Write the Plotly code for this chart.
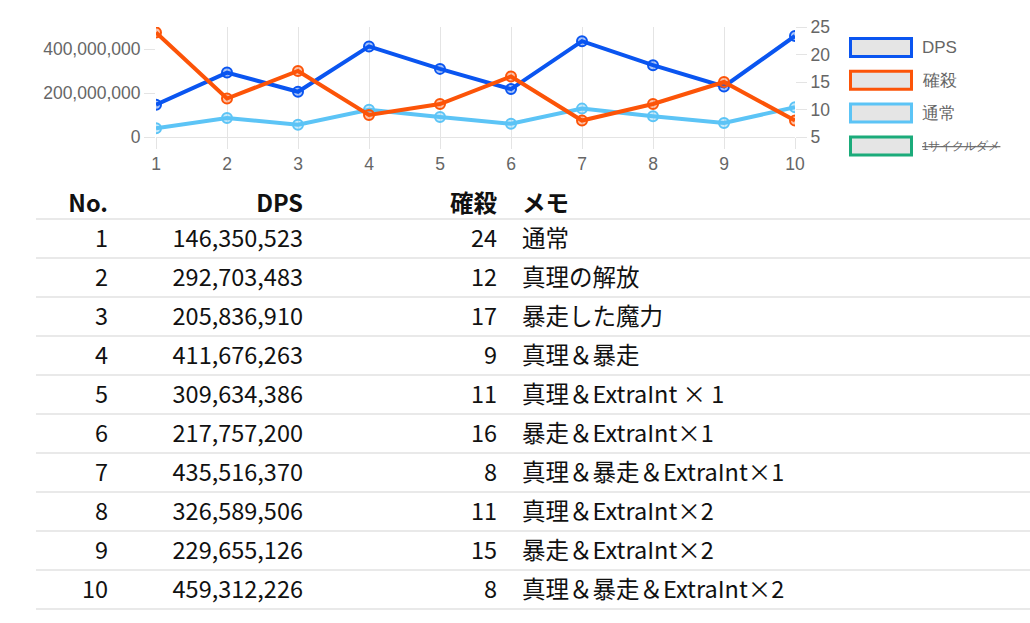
import plotly.graph_objects as go

W, H = 1030, 623

# ---------------- data ----------------
nos = [1, 2, 3, 4, 5, 6, 7, 8, 9, 10]
dps = [146350523, 292703483, 205836910, 411676263, 309634386,
       217757200, 435516370, 326589506, 229655126, 459312226]
kakusatsu = [24, 12, 17, 9, 11, 16, 8, 11, 15, 8]
tsujo = [40e6, 86e6, 56e6, 124e6, 91e6, 60e6, 129e6, 94e6, 64e6, 135e6]
memo = ["通常", "真理の解放", "暴走した魔力", "真理＆暴走",
        "真理＆ExtraInt × 1", "暴走＆ExtraInt×1", "真理＆暴走＆ExtraInt×1",
        "真理＆ExtraInt×2", "暴走＆ExtraInt×2", "真理＆暴走＆ExtraInt×2"]
headers = ["No.", "DPS", "確殺", "メモ"]
legend_names = ["DPS", "確殺", "通常", "1サイクルダメ"]
legend_hidden = [False, False, False, True]
left_ticks = [0, 200000000, 400000000]
right_ticks = [5, 10, 15, 20, 25]

# ---------------- styles ----------------
C_DPS = "#0a55f0"
C_KAKU = "#fc5408"
C_TSU = "#5cc4f6"
C_GREEN = "#1bab7a"
legend_colors = [C_DPS, C_KAKU, C_TSU, C_GREEN]
GRID = "#e4e4e4"
TICKTXT = "#666666"
CHART_FONT = "Liberation Sans, Arial, sans-serif"
TABLE_FONT = "Noto Sans CJK JP, sans-serif"


def rgba(hexc, a):
    h = hexc.lstrip("#")
    r, g, b = int(h[0:2], 16), int(h[2:4], 16), int(h[4:6], 16)
    return f"rgba({r},{g},{b},{a})"


def px_x(p):
    return p / W


def px_y(p):
    return 1 - p / H


fig = go.Figure()

# ---------------- line chart ----------------
def line_trace(y, color, name, yaxis):
    return go.Scatter(
        x=nos, y=y, name=name, mode="lines+markers", yaxis=yaxis, xaxis="x",
        line=dict(color=color, width=4),
        marker=dict(size=10, color=rgba(color, 0.35),
                    line=dict(color=color, width=2)),
        showlegend=False, hoverinfo="skip",
    )

fig.add_trace(line_trace(tsujo, C_TSU, "通常", "y"))
fig.add_trace(line_trace(kakusatsu, C_KAKU, "確殺", "y2"))
fig.add_trace(line_trace(dps, C_DPS, "DPS", "y"))

# ---------------- table (text via scatter on hidden axes) ----------------
col_x = {"No.": 108, "DPS": 303, "確殺": 497, "メモ": 522}
header_y = 0.17
text_shift = 0.08
rows_y = [n + text_shift for n in nos]
TF = dict(family=TABLE_FONT, size=23.5, color="#111111")

fig.add_trace(go.Scatter(
    x=[col_x[h] for h in headers], y=[header_y] * 4,
    text=[f"<b>{h}</b>" for h in headers], mode="text",
    textposition=["middle left", "middle left", "middle left", "middle right"],
    textfont=TF, xaxis="x3", yaxis="y3", showlegend=False, hoverinfo="skip"))

for key, vals in [("No.", [str(n) for n in nos]),
                  ("DPS", [f"{v:,}" for v in dps]),
                  ("確殺", [str(v) for v in kakusatsu])]:
    fig.add_trace(go.Scatter(
        x=[col_x[key]] * len(nos), y=rows_y, text=vals,
        mode="text", textposition="middle left", textfont=TF,
        xaxis="x3", yaxis="y3", showlegend=False, hoverinfo="skip"))

fig.add_trace(go.Scatter(
    x=[col_x["メモ"]] * len(nos), y=rows_y, text=memo,
    mode="text", textposition="middle right", textfont=TF,
    xaxis="x3", yaxis="y3", showlegend=False, hoverinfo="skip"))

shapes = []
for i in range(len(nos) + 1):
    shapes.append(dict(type="line", xref="x3", yref="y3",
                       x0=36, x1=1030, y0=i + 0.5, y1=i + 0.5,
                       line=dict(color="#d3d3d3", width=1.2)))

# ---------------- custom legend ----------------
annotations = []
for i, (nm, col, hid) in enumerate(zip(legend_names, legend_colors, legend_hidden)):
    top = 37 + 32.8 * i
    shapes.append(dict(type="rect", xref="paper", yref="paper",
                       x0=px_x(850.5), x1=px_x(911.5),
                       y0=px_y(top + 1.5), y1=px_y(top + 19.5),
                       line=dict(color=col, width=3), fillcolor="#e5e5e5"))
    annotations.append(dict(
        xref="paper", yref="paper", x=px_x(920), y=px_y(top + 10.5),
        xanchor="left", yanchor="middle", showarrow=False,
        text=(f"<s>{nm}</s>" if hid else nm),
        font=dict(family=CHART_FONT, size=(11.5 if hid else 17), color=TICKTXT)))

fig.update_layout(
    width=W, height=H,
    margin=dict(l=0, r=0, t=0, b=0, pad=0, autoexpand=False),
    paper_bgcolor="white", plot_bgcolor="white",
    showlegend=False,
    xaxis=dict(domain=[px_x(156), px_x(795)], range=[1, 10],
               tickvals=nos, showgrid=True, gridcolor=GRID, gridwidth=1,
               ticks="outside", ticklen=11, tickcolor=GRID, tickwidth=1,
               showline=True, linecolor=GRID, linewidth=1, zeroline=False,
               tickfont=dict(family=CHART_FONT, size=17.5, color=TICKTXT),
               anchor="y", fixedrange=True, automargin=False),
    yaxis=dict(domain=[px_y(137), px_y(27)], range=[0, 500000000],
               tickvals=left_ticks, tickformat=",d", showgrid=False,
               ticks="outside", ticklen=11, tickcolor=GRID, tickwidth=1,
               zeroline=False, showline=False,
               tickfont=dict(family=CHART_FONT, size=17.5, color=TICKTXT),
               anchor="x", fixedrange=True, automargin=False),
    yaxis2=dict(overlaying="y", side="right", range=[5, 25],
                tickvals=right_ticks, showgrid=False,
                ticks="outside", ticklen=11, tickcolor=GRID, tickwidth=1,
                zeroline=False, showline=False,
                tickfont=dict(family=CHART_FONT, size=17.5, color=TICKTXT),
                anchor="x", fixedrange=True, automargin=False),
    xaxis3=dict(domain=[0, 1], range=[0, W], visible=False, anchor="y3",
                fixedrange=True, automargin=False),
    yaxis3=dict(domain=[0, px_y(180)], range=[10.859, -0.5], visible=False,
                anchor="x3", fixedrange=True, automargin=False),
    shapes=shapes,
    annotations=annotations,
)

fig.write_html("out.html")
